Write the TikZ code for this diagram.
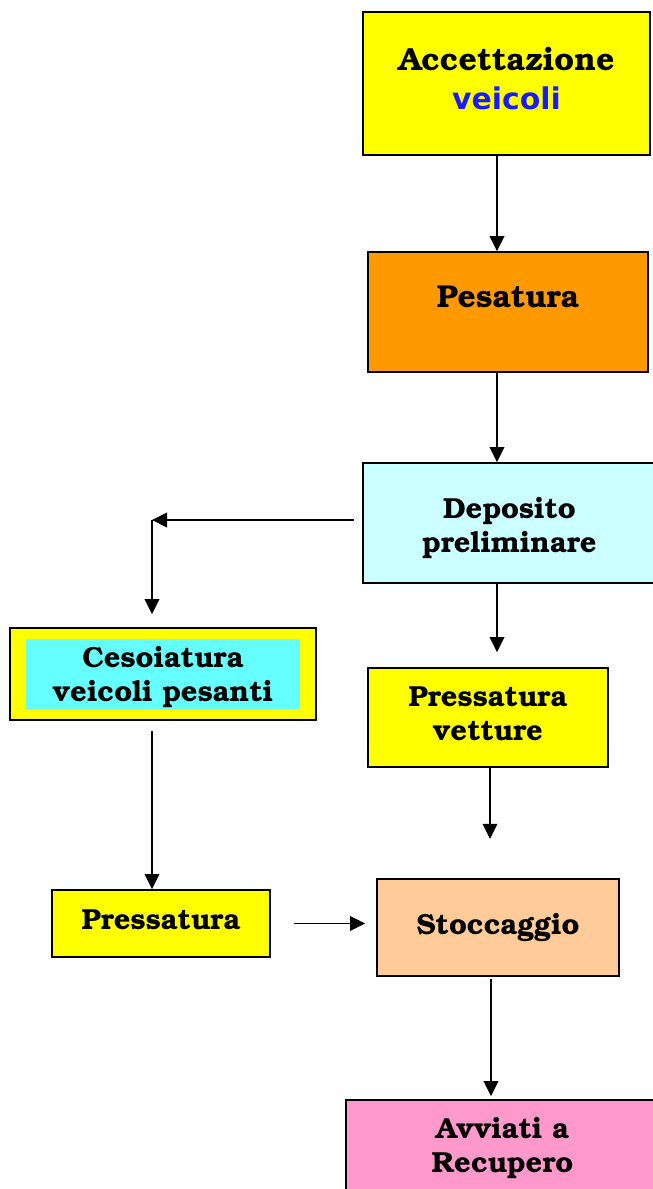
\documentclass[tikz,border=0pt]{standalone}
\usepackage[T1]{fontenc}
\usepackage{fontspec}
\usetikzlibrary{arrows.meta}
\newfontfamily\blufont{DejaVu Sans}
\newcommand{\bkfont}{\fontencoding{T1}\fontfamily{pbk}\fontseries{b}\fontshape{n}\selectfont}
\definecolor{boxyellow}{HTML}{FFFF00}
\definecolor{boxorange}{HTML}{FF9900}
\definecolor{boxice}{HTML}{CCFFFF}
\definecolor{boxcyan}{HTML}{66FFFF}
\definecolor{boxpeach}{HTML}{FFCC99}
\definecolor{boxpink}{HTML}{FF99CC}
\definecolor{txtblue}{HTML}{1A1AFF}
\begin{document}
\begin{tikzpicture}[every node/.style={font=\bkfont\fontsize{16.5}{19.5}\selectfont},
  stage/.style={draw, line width=1pt, align=center, inner sep=0pt},
  arr/.style={line width=1.1pt, -{Triangle[length=0.3cm, width=0.29cm]}}]
\useasboundingbox (0,0) rectangle (13.04,-23.78);
\node[stage, fill=boxyellow, minimum width=5.74cm, minimum height=2.86cm,
  label={[align=center, yshift=0.1cm, font=\bkfont\fontsize{18.2}{22}\selectfont]center:Accettazione\\{\blufont\bfseries\fontsize{17}{22}\selectfont\color{txtblue}veicoli}}] (acc) at (10.13,-1.67) {};
\node[stage, fill=boxorange, minimum width=5.6cm, minimum height=2.4cm,
  label={[yshift=0.3cm, font=\bkfont\fontsize{18}{20}\selectfont]center:Pesatura}] (pes) at (10.16,-6.24) {};
\node[stage, fill=boxice, minimum width=5.86cm, minimum height=2.4cm,
  label={[align=center, yshift=-0.1cm]center:Deposito\\preliminare}] (dep) at (10.19,-10.46) {};
\node[stage, fill=boxyellow, minimum width=6.12cm, minimum height=1.84cm] (ces-out) at (3.26,-13.48) {};
\node[stage, draw=none, fill=boxcyan, minimum width=5.48cm, minimum height=1.4cm,
  label={[align=center, yshift=-0.06cm]center:Cesoiatura\\veicoli pesanti}] (ces) at (3.26,-13.48) {};
\node[stage, fill=boxyellow, minimum width=4.8cm, minimum height=1.98cm,
  label={[align=center, yshift=0.08cm]center:Pressatura\\vetture}] (pv) at (9.76,-14.35) {};
\node[stage, fill=boxyellow, minimum width=4.36cm, minimum height=1.34cm,
  label={[yshift=0.08cm]center:Pressatura}] (pre) at (3.22,-18.47) {};
\node[stage, fill=boxpeach, minimum width=4.84cm, minimum height=1.94cm,
  label={center:Stoccaggio}] (sto) at (9.96,-18.55) {};
\node[stage, fill=boxpink, minimum width=6.26cm, minimum height=1.84cm,
  label={[align=center, yshift=-0.04cm]center:Avviati a\\Recupero}] (avv) at (10.05,-22.92) {};
\coordinate (acc-out) at ([xshift=-0.19cm]acc.south);
\draw[arr] (acc-out) -- (acc-out |- pes.north);
\coordinate (pes-out) at ([xshift=-0.22cm]pes.south);
\draw[arr] (pes-out) -- (pes-out |- dep.north);
\coordinate (dep-w) at ([shift={(-0.16cm,0.06cm)}]dep.west);
\coordinate (ces-in) at ([shift={(-0.22cm,0.26cm)}]ces-out.north);
\coordinate (turn) at (ces-in |- dep-w);
\draw[arr] (dep-w) -- (turn);
\draw[arr] (turn) -- (ces-in);
\coordinate (dep-out) at ([xshift=-0.25cm]dep.south);
\draw[arr, shorten >=0.3cm] (dep-out) -- (dep-out |- pv.north);
\coordinate (pv-out) at ([xshift=0.04cm]pv.south);
\coordinate (pv-end) at ([yshift=-1.42cm]pv-out);
\draw[arr] (pv-out) -- (pv-end);
\coordinate (ces-out-s) at ([shift={(-0.22cm,-0.2cm)}]ces-out.south);
\draw[arr] (ces-out-s) -- (ces-out-s |- pre.north);
\draw[arr, shorten <=0.46cm, shorten >=0.22cm] (pre.east) -- (pre.east -| sto.west);
\coordinate (sto-out) at ([xshift=-0.14cm]sto.south);
\draw[arr, shorten <=0.04cm, shorten >=0.06cm] (sto-out) -- (sto-out |- avv.north);
\end{tikzpicture}
\end{document}
